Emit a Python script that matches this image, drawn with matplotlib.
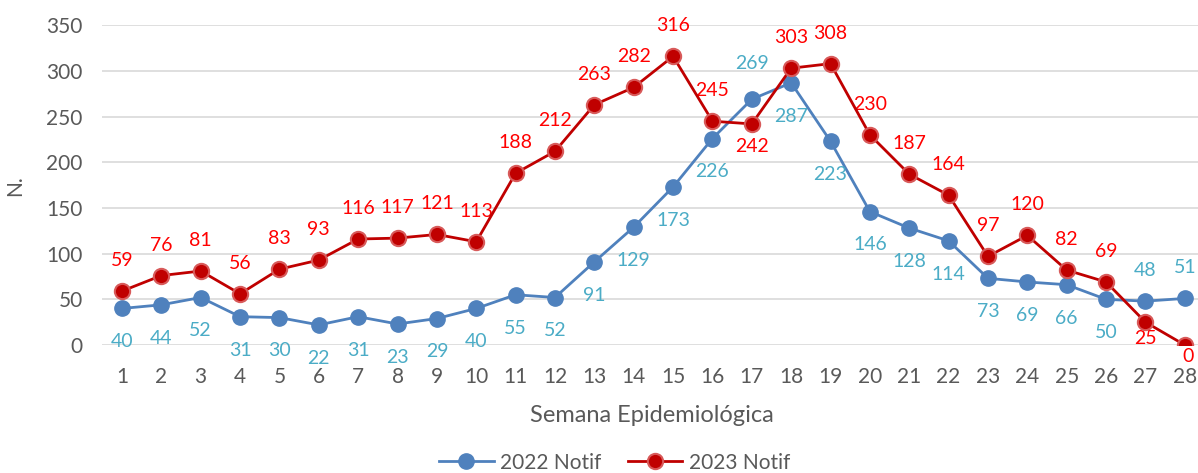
"""
Notificaciones por semana epidemiologica, 2022 vs 2023.
"""
import matplotlib.pyplot as plt

semanas = list(range(1, 29))
notif_2022 = [40, 44, 52, 31, 30, 22, 31, 23, 29, 40, 55, 52, 91, 129, 173,
              226, 269, 287, 223, 146, 128, 114, 73, 69, 66, 50, 48, 51]
notif_2023 = [59, 76, 81, 56, 83, 93, 116, 117, 121, 113, 188, 212, 263, 282,
              316, 245, 242, 303, 308, 230, 187, 164, 97, 120, 82, 69, 25, 0]

# label offsets (points) for each data label
off_2022 = [(0, -24)] * 28
off_2022[16] = (0, 26)
off_2022[26] = (0, 22)
off_2022[27] = (0, 22)
off_2023 = [(0, 22)] * 28
off_2023[16] = (0, -16)
off_2023[26] = (0, -12)
off_2023[27] = (2, -8)

plt.rcParams['font.family'] = ['Lato', 'DejaVu Sans']

fig = plt.figure(figsize=(11.98, 4.73), dpi=100)
ax = fig.add_axes([0.0854, 0.2706, 0.920, 0.676])

ax.plot(semanas, notif_2022, color='#4F81BD', lw=2, marker='o', ms=11,
        mfc='#4F81BD', mec='#4F81BD', label='2022 Notif', zorder=3)
ax.plot(semanas, notif_2023, color='#C00000', lw=2, marker='o', ms=11,
        mfc='#C00000', mec='#D85A5A', mew=1.5, label='2023 Notif', zorder=4)

for x, y, off in zip(semanas, notif_2022, off_2022):
    ax.annotate(str(y), (x, y), xytext=off, textcoords='offset points',
                ha='center', va='center', color='#4BACC6', fontsize=14)
for x, y, off in zip(semanas, notif_2023, off_2023):
    ax.annotate(str(y), (x, y), xytext=off, textcoords='offset points',
                ha='center', va='center', color='#FF0000', fontsize=14)

ax.set_xlim(0.5, 28.5)
ax.set_ylim(0, 350)
ax.set_yticks(range(0, 351, 50))
ax.set_xticks(semanas)
ax.grid(axis='y', color='#D9D9D9', lw=1.2)
ax.set_axisbelow(True)
for s in ['top', 'right', 'left', 'bottom']:
    ax.spines[s].set_visible(False)
ax.tick_params(length=0, labelsize=15, colors='#595959')
ax.tick_params(axis='x', pad=16)
ax.tick_params(axis='y', pad=14)

ax.set_xlabel('Semana Epidemiológica', fontsize=17, color='#595959')
ax.xaxis.set_label_coords(0.499, -0.222)
ax.xaxis.label.set_va('center')
ax.set_ylabel('N.', fontsize=15, color='#595959')
ax.yaxis.set_label_coords(-0.07, 0.5)

fig.legend(loc='center', ncol=2, frameon=False, fontsize=15,
           labelcolor='#595959', bbox_to_anchor=(0.513, 0.022),
           handlelength=2.6, handletextpad=0.3, columnspacing=1.3)

fig.savefig('out.png', dpi=100)
